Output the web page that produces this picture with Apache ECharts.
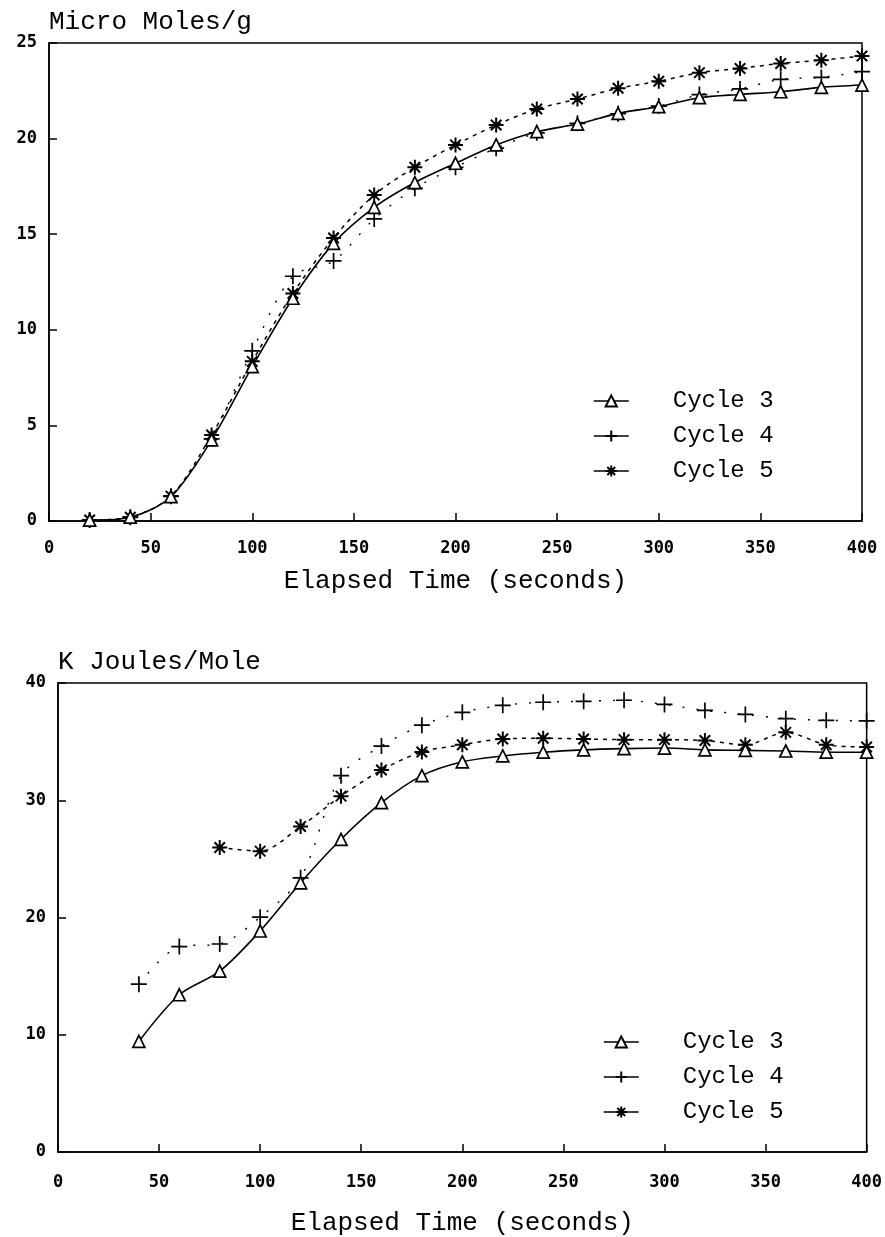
<!DOCTYPE html>
<html>
<head>
<meta charset="utf-8">
<script src="https://cdn.jsdelivr.net/npm/echarts@6/dist/echarts.min.js"></script>
<style>
  html, body { margin: 0; padding: 0; background: #fff; }
  #chart { width: 885px; height: 1237px; }
</style>
</head>
<body>
<div id="chart"></div>
<script>
// ---- Data ----
const times = [20, 40, 60, 80, 100, 120, 140, 160, 180, 200, 220, 240, 260, 280, 300, 320, 340, 360, 380, 400];
const seriesNames = ['Cycle 3', 'Cycle 4', 'Cycle 5'];
const xTicks = [0, 50, 100, 150, 200, 250, 300, 350, 400];

// Top panel: Micro Moles/g
const moleCycle3 = [0.05, 0.2, 1.27, 4.24, 8.07, 11.65, 14.52, 16.4, 17.7, 18.71, 19.67, 20.36, 20.76, 21.32, 21.67, 22.14, 22.31, 22.45, 22.68, 22.8];
const moleCycle4 = [0.05, 0.2, 1.3, 4.3, 8.9, 12.8, 13.6, 15.8, 17.4, 18.5, 19.5, 20.3, 20.8, 21.3, 21.7, 22.3, 22.6, 23.1, 23.2, 23.5];
const moleCycle5 = [0.05, 0.2, 1.3, 4.5, 8.35, 11.9, 14.8, 17.05, 18.5, 19.67, 20.71, 21.55, 22.07, 22.63, 23.0, 23.45, 23.67, 23.93, 24.1, 24.32];
const moleTicks = [0, 5, 10, 15, 20, 25];

// Bottom panel: K Joules/Mole
const kjCycle3 = [null, 9.43, 13.41, 15.42, 18.85, 22.96, 26.67, 29.79, 32.1, 33.28, 33.78, 34.1, 34.3, 34.4, 34.45, 34.3, 34.25, 34.2, 34.1, 34.1];
const kjCycle4 = [null, 14.31, 17.52, 17.74, 20.03, 23.38, 32.1, 34.62, 36.4, 37.5, 38.1, 38.36, 38.44, 38.53, 38.17, 37.66, 37.32, 36.96, 36.82, 36.77];
const kjCycle5 = [null, null, null, 25.97, 25.66, 27.76, 30.35, 32.58, 34.12, 34.73, 35.23, 35.29, 35.23, 35.17, 35.17, 35.09, 34.73, 35.79, 34.73, 34.54];
const kjTicks = [0, 10, 20, 30, 40];

// ---- Styles ----
const MONO = '"Liberation Mono", "DejaVu Sans Mono", monospace';
const TICKFONT = '"DejaVu Sans Mono", monospace';
const PLUS = 'path://M0,6 L12,6 M6,0 L6,12';
const STAR = 'path://M6,0 L6,12 M0,6 L12,6 M1.8,1.8 L10.2,10.2 M10.2,1.8 L1.8,10.2';

const styles = [
  { symbol: 'triangle', symbolSize: 12, line: { type: 'solid', width: 1.6 }, item: { color: '#fff', borderColor: '#000', borderWidth: 1.7 } },
  { symbol: PLUS, symbolSize: 16, line: { type: [2, 12], width: 1.4 }, item: { color: '#000', borderColor: '#000', borderWidth: 1.7 } },
  { symbol: STAR, symbolSize: 15, line: { type: [4, 5], width: 1.5 }, item: { color: '#000', borderColor: '#000', borderWidth: 2 } }
];

function pairs(vals) { return times.map((t, i) => [t, vals[i]]); }

function mkSeries(vals, idx, gridIdx) {
  const s = styles[idx];
  return {
    name: seriesNames[idx],
    type: 'line',
    xAxisIndex: gridIdx,
    yAxisIndex: gridIdx,
    data: pairs(vals),
    smooth: 0.3,
    symbol: s.symbol,
    symbolSize: s.symbolSize,
    showAllSymbol: true,
    color: '#000',
    lineStyle: Object.assign({ color: '#000' }, s.line),
    itemStyle: s.item,
    z: 3 - idx + 2
  };
}

function xAxis(gridIdx, labelMargin, nameGap) {
  return {
    type: 'value', gridIndex: gridIdx, min: xTicks[0], max: xTicks[xTicks.length - 1], interval: 50,
    name: 'Elapsed Time (seconds)', nameLocation: 'middle', nameGap: nameGap,
    nameTextStyle: { fontFamily: MONO, fontSize: 26, color: '#000' },
    axisLine: { show: true, lineStyle: { color: '#000', width: 1.5 } },
    axisTick: { show: true, inside: true, length: 8, lineStyle: { color: '#000', width: 1.5 } },
    axisLabel: { margin: labelMargin, fontFamily: TICKFONT, fontSize: 17, fontWeight: 'bold', color: '#000' },
    splitLine: { show: false }
  };
}

function yAxis(gridIdx, ticks, name) {
  return {
    type: 'value', gridIndex: gridIdx, min: ticks[0], max: ticks[ticks.length - 1], interval: ticks[1] - ticks[0],
    name: name, nameLocation: 'end', nameGap: 8,
    nameTextStyle: { fontFamily: MONO, fontSize: 26, color: '#000', align: 'left', verticalAlign: 'bottom' },
    axisLine: { show: true, lineStyle: { color: '#000', width: 1.5 } },
    axisTick: { show: true, inside: true, length: 8, lineStyle: { color: '#000', width: 1.5 } },
    axisLabel: { margin: 12, fontFamily: TICKFONT, fontSize: 17, fontWeight: 'bold', color: '#000' },
    splitLine: { show: false }
  };
}

function legend(left, top) {
  return {
    orient: 'vertical', left: left, top: top,
    data: seriesNames, itemWidth: 35, itemHeight: 14, itemGap: 11,
    lineStyle: { type: 'solid', width: 1.5, color: '#000' },
    textStyle: { fontFamily: MONO, fontSize: 24, lineHeight: 24, color: '#000', padding: [0, 0, 0, 39] },
    selectedMode: false
  };
}

const option = {
  backgroundColor: '#fff',
  animation: false,
  grid: [
    { left: 49, top: 43, width: 813, height: 478, show: true, borderColor: '#000', borderWidth: 1.5, backgroundColor: 'transparent' },
    { left: 58, top: 683, width: 813, height: 478, show: true, borderColor: '#000', borderWidth: 1.5, backgroundColor: 'transparent' }
  ],
  xAxis: [xAxis(0, 19, 47), xAxis(1, 22, 58)],
  yAxis: [yAxis(0, moleTicks, 'Micro Moles/g'), yAxis(1, kjTicks, 'K Joules/Mole')],
  legend: [legend(588, 384), legend(598, 1025)],
  series: [
    mkSeries(moleCycle3, 0, 0), mkSeries(moleCycle4, 1, 0), mkSeries(moleCycle5, 2, 0),
    mkSeries(kjCycle3, 0, 1), mkSeries(kjCycle4, 1, 1), mkSeries(kjCycle5, 2, 1)
  ]
};

const chart = echarts.init(document.getElementById('chart'), null, { renderer: 'canvas' });
chart.setOption(option);
</script>
</body>
</html>
